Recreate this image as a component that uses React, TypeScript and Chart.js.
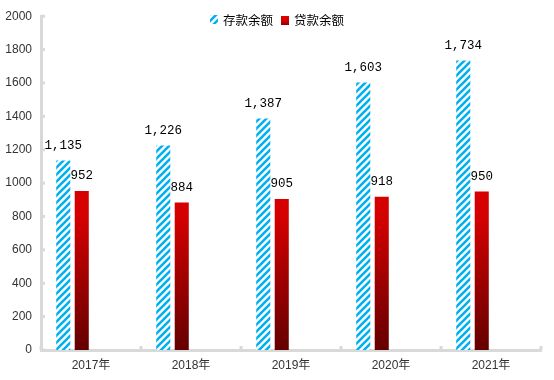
import React, { useEffect, useRef } from "react";
import { Chart, registerables } from "chart.js";

Chart.register(...registerables);

const categories = ["2017年", "2018年", "2019年", "2020年", "2021年"];
const depositLabel = "存款余额";
const loanLabel = "贷款余额";
const depositValues = [1135, 1226, 1387, 1603, 1734];
const loanValues = [952, 884, 905, 918, 950];
const yMin = 0;
const yMax = 2000;
const yStep = 200;

const fmt = (v: number) => v.toLocaleString("en-US");

function makeHatch(): CanvasPattern | string {
  const c = document.createElement("canvas");
  const s = 7;
  c.width = s;
  c.height = s;
  const g = c.getContext("2d");
  if (!g) return "#00b0f0";
  g.fillStyle = "#ffffff";
  g.fillRect(0, 0, s, s);
  g.strokeStyle = "#00b0f0";
  g.lineWidth = 2.6;
  g.beginPath();
  g.moveTo(-1, s + 1);
  g.lineTo(s + 1, -1);
  g.moveTo(-1, 1);
  g.lineTo(1, -1);
  g.moveTo(s - 1, s + 1);
  g.lineTo(s + 1, s - 1);
  g.stroke();
  const p = g.createPattern(c, "repeat");
  return p || "#00b0f0";
}

export default function App() {
  const ref = useRef<HTMLCanvasElement>(null);
  useEffect(() => {
    document.body.style.margin = "0";
    const canvas = ref.current;
    if (!canvas) return;
    const hatch = makeHatch();
    const redFill = (ctx: any) => {
      const chart = ctx.chart;
      const area = chart.chartArea;
      if (!area) return "#d00000";
      const g = chart.ctx.createLinearGradient(0, area.top, 0, area.bottom);
      g.addColorStop(0, "#e60000");
      g.addColorStop(0.6, "#d40000");
      g.addColorStop(1, "#640000");
      return g;
    };

    const axisColor = "#d9d9d9";

    const labelsPlugin = {
      id: "valueLabels",
      afterDatasetsDraw(chart: any) {
        const c = chart.ctx;
        c.save();
        c.fillStyle = "#000000";
        c.textAlign = "center";
        c.textBaseline = "middle";
        c.font = "12.5px 'Liberation Mono', 'Noto Sans CJK SC', monospace";
        [0, 1].forEach((di) => {
          const meta = chart.getDatasetMeta(di);
          const vals = di === 0 ? depositValues : loanValues;
          meta.data.forEach((el: any, i: number) => {
            c.fillText(fmt(vals[i]), el.x, el.y - 15);
          });
        });
        c.restore();
      },
    };

    const legendPlugin = {
      id: "topLegend",
      afterDraw(chart: any) {
        const c = chart.ctx;
        const cx = chart.width / 2;
        const y = 20;
        c.save();
        c.font = "12.5px 'Noto Sans CJK SC', sans-serif";
        c.textBaseline = "middle";
        c.textAlign = "left";
        const w1 = c.measureText(depositLabel).width;
        const w2 = c.measureText(loanLabel).width;
        const box = 8;
        const gap = 5;
        const itemGap = 8;
        const total = box + gap + w1 + itemGap + box + gap + w2;
        let x = cx - total / 2;
        c.fillStyle = hatch as any;
        c.fillRect(x, y - 5, box, 9);
        x += box + gap;
        c.fillStyle = "#000000";
        c.fillText(depositLabel, x, y);
        x += w1 + itemGap;
        const g = c.createLinearGradient(0, y - 4, 0, y + 5);
        g.addColorStop(0, "#e00000");
        g.addColorStop(0.6, "#cc0000");
        g.addColorStop(1, "#8a0000");
        c.fillStyle = g;
        c.fillRect(x, y - 4, box, 9);
        x += box + gap;
        c.fillStyle = "#000000";
        c.fillText(loanLabel, x, y);
        c.restore();
      },
    };

    const ticksPlugin = {
      id: "innerTicks",
      afterDraw(chart: any) {
        const c = chart.ctx;
        const y = chart.scales.y;
        const x = chart.scales.x;
        const area = chart.chartArea;
        c.save();
        c.strokeStyle = axisColor;
        c.lineWidth = 3;
        for (let v = yMin; v <= yMax; v += yStep) {
          const py = y.getPixelForValue(v);
          c.beginPath();
          c.moveTo(area.left, py);
          c.lineTo(area.left + 4, py);
          c.stroke();
        }
        const n = categories.length;
        const half = (x.getPixelForValue(1) - x.getPixelForValue(0)) / 2;
        for (let i = 0; i <= n; i++) {
          const px = i < n ? x.getPixelForValue(i) - half : x.getPixelForValue(n - 1) + half;
          c.beginPath();
          c.moveTo(px, area.bottom);
          c.lineTo(px, area.bottom - 4);
          c.stroke();
        }
        c.restore();
      },
    };

    const chart = new Chart(canvas, {
      type: "bar",
      data: {
        labels: categories,
        datasets: [
          {
            label: depositLabel,
            data: depositValues,
            backgroundColor: hatch as any,
            borderWidth: 0,
          },
          {
            label: loanLabel,
            data: loanValues,
            backgroundColor: redFill as any,
            borderWidth: 0,
          },
          { label: "", data: categories.map(() => null), backgroundColor: "transparent" },
          { label: "", data: categories.map(() => null), backgroundColor: "transparent" },
        ],
      },
      options: {
        animation: false,
        responsive: false,
        maintainAspectRatio: false,
        datasets: {
          bar: {
            categoryPercentage: 0.74,
            barPercentage: 0.76,
          },
        },
        layout: { padding: { top: 16, right: 13, left: 0, bottom: 0 } },
        plugins: {
          legend: { display: false },
          tooltip: { enabled: false },
        },
        scales: {
          x: {
            grid: { display: false, drawTicks: false },
            border: { color: axisColor, width: 3 },
            ticks: {
              color: "#333333",
              padding: 8,
              font: { size: 12, family: "'Liberation Sans', 'Noto Sans CJK SC', sans-serif" },
            },
            afterFit: (s: any) => {
              s.height = 30;
            },
          },
          y: {
            min: yMin,
            max: yMax,
            grid: { display: false, drawTicks: false },
            border: { color: axisColor, width: 3 },
            ticks: {
              stepSize: yStep,
              color: "#333333",
              padding: 9,
              font: { size: 12, family: "'Liberation Sans', sans-serif" },
              callback: (v: any) => String(v),
            },
            afterFit: (s: any) => {
              s.width = 41;
            },
          },
        },
      },
      plugins: [labelsPlugin, ticksPlugin, legendPlugin],
    });
    return () => chart.destroy();
  }, []);
  return (
    <div style={{ width: 554, height: 380 }}>
      <canvas ref={ref} width={554} height={380} style={{ display: "block" }} />
    </div>
  );
}
